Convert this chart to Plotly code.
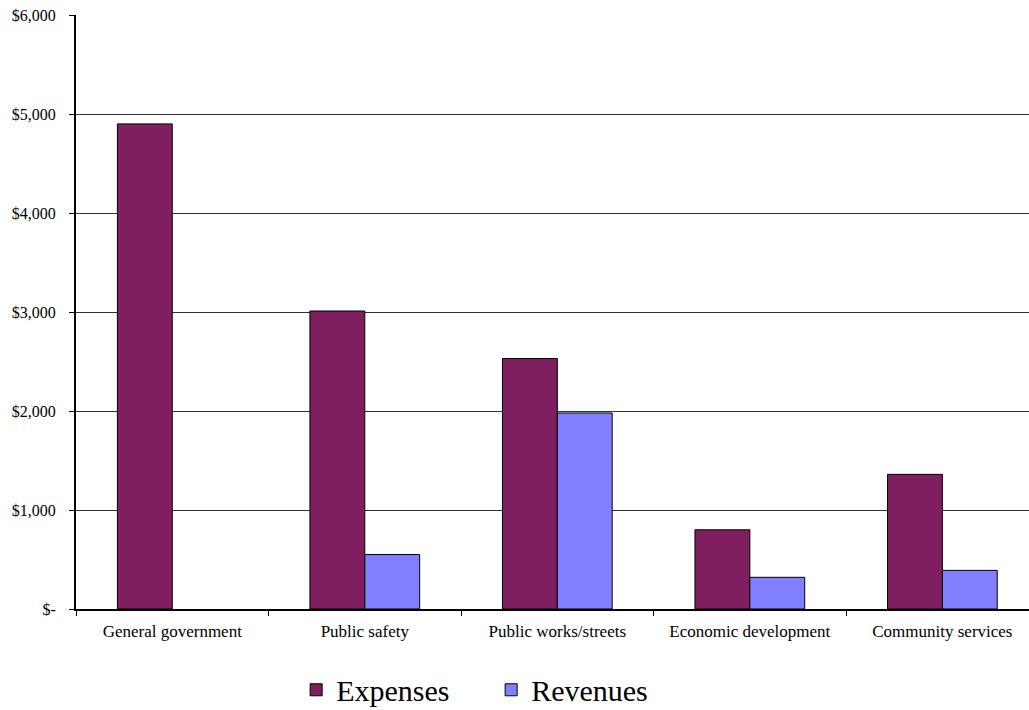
import plotly.graph_objects as go

categories = ["General government", "Public safety", "Public works/streets",
              "Economic development", "Community services"]
expenses = [4900, 3010, 2530, 800, 1360]
revenues = [None, 550, 1980, 320, 390]
y_tick_vals = [0, 1000, 2000, 3000, 4000, 5000, 6000]
y_tick_text = ["$-", "$1,000", "$2,000", "$3,000", "$4,000", "$5,000", "$6,000"]

FONT = "Liberation Serif, Times New Roman, serif"

fig = go.Figure()
fig.add_trace(go.Bar(name="Expenses", x=categories, y=expenses,
                     marker=dict(color="#7F1F5F", line=dict(color="black", width=1))))
fig.add_trace(go.Bar(name="Revenues", x=categories, y=revenues,
                     marker=dict(color="#8080FF", line=dict(color="black", width=1))))

fig.update_layout(
    width=1029, height=710,
    margin=dict(l=76, r=0, t=15, b=101, autoexpand=False),
    paper_bgcolor="white", plot_bgcolor="white",
    barmode="group", bargap=0.43, bargroupgap=0,
    font=dict(family=FONT, color="black", size=16),
    showlegend=True,
    legend=dict(orientation="h", x=0.231, xanchor="left", y=-0.136, yanchor="middle",
                font=dict(family=FONT, size=30, color="black"),
                entrywidth=150, tracegroupgap=0, bgcolor="rgba(0,0,0,0)"),
)
fig.update_xaxes(
    range=[-0.5, 4.45], showline=True, linecolor="black", linewidth=2,
    ticks="outside", tickson="boundaries", ticklen=5, tickcolor="black", tickwidth=1,
    showgrid=False, ticklabelstandoff=6,
    tickfont=dict(family=FONT, size=17, color="black"),
)
fig.update_yaxes(
    range=[0, 6000], tickvals=y_tick_vals, ticktext=y_tick_text,
    showline=True, linecolor="black", linewidth=2,
    ticks="outside", ticklen=5, tickcolor="black", tickwidth=1,
    showgrid=True, gridcolor="#333333", gridwidth=1, zeroline=False,
    ticklabelstandoff=10,
    tickfont=dict(family=FONT, size=16, color="black"),
)

fig.write_html("out.html")
